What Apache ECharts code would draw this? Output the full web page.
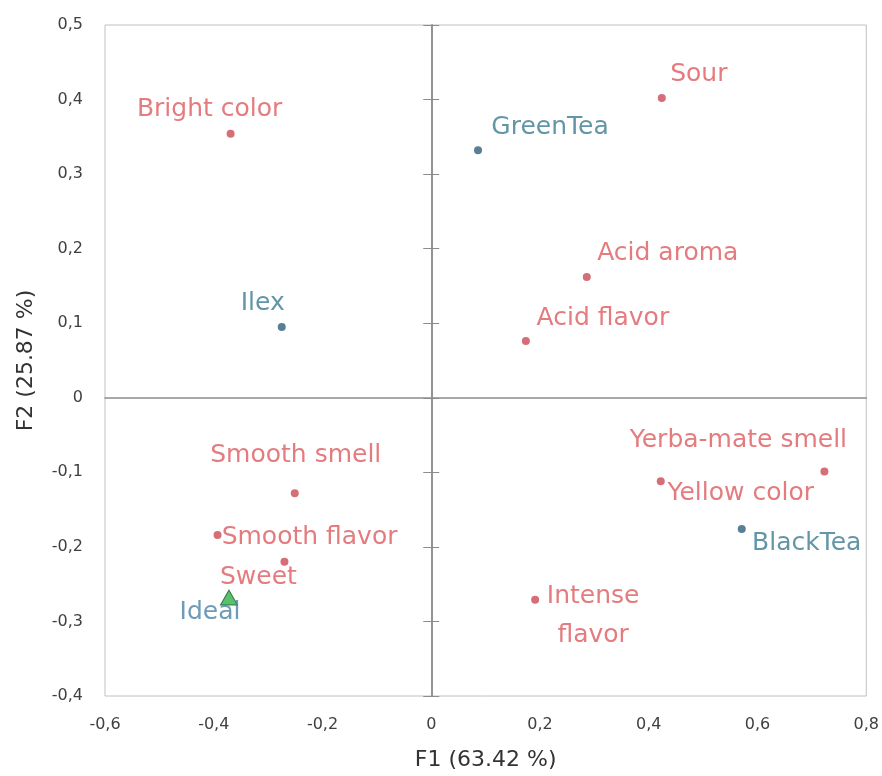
<!DOCTYPE html>
<html>
<head>
<meta charset="utf-8">
<script src="https://cdn.jsdelivr.net/npm/echarts@6/dist/echarts.min.js"></script>
<style>html,body{margin:0;padding:0;background:#fff;}#chart{width:882px;height:776px;}</style>
</head>
<body>
<div id="chart"></div>
<script>
// ---- data ----
var attrNames = ['Bright color','Sour','Acid aroma','Acid flavor','Smooth smell','Smooth flavor','Sweet','Yerba-mate smell','Yellow color','Intense\nflavor'];
var attrF1 = [-0.369, 0.424, 0.286, 0.174, -0.251, -0.393, -0.270, 0.723, 0.422, 0.191];
var attrF2 = [0.354, 0.402, 0.162, 0.076, -0.128, -0.184, -0.220, -0.099, -0.112, -0.271];
var prodNames = ['GreenTea','Ilex','BlackTea'];
var prodF1 = [0.086, -0.275, 0.571];
var prodF2 = [0.332, 0.095, -0.176];
var idealNames = ['Ideal'];
var idealF1 = [-0.372];
var idealF2 = [-0.268];
var xTicks = [-0.6,-0.4,-0.2,0,0.2,0.4,0.6,0.8];
var yTicks = [-0.4,-0.3,-0.2,-0.1,0,0.1,0.2,0.3,0.4,0.5];
var xTitle = 'F1 (63.42 %)';
var yTitle = 'F2 (25.87 %)';

// ---- label placement (text centre relative to the mark) ----
var labelOffsets = {
  'Bright color':[-21,-24], 'Sour':[37,-24], 'Acid aroma':[81,-23], 'Acid flavor':[77,-23],
  'Smooth smell':[1,-38], 'Smooth flavor':[92,3], 'Sweet':[-26,16], 'Yerba-mate smell':[-86,-31],
  'Yellow color':[80,12], 'Intense\nflavor':[58,16], 'GreenTea':[72,-23], 'Ilex':[-19,-23],
  'BlackTea':[65,15], 'Ideal':[-19,15]
};

function build(names, xs, ys) {
  return names.map(function(n, i){
    return {name:n, value:[xs[i], ys[i]], label:{offset: labelOffsets[n]}};
  });
}
function fmt(v){ return String(Math.round(v*10)/10).replace('.', ','); }

var labelFont = {fontFamily:'DejaVu Sans', fontSize:25, position:'inside', align:'center', verticalAlign:'middle', lineHeight:39, show:true, formatter:function(p){return p.name;}};

var chart = echarts.init(document.getElementById('chart'), null, {renderer:'canvas'});
chart.setOption({
  animation:false,
  backgroundColor:'#fff',
  grid:{left:105, top:25, right:14, bottom:77, show:true, borderColor:'#c0c0c0', borderWidth:1, containLabel:false},
  xAxis:[{
    type:'value', min:xTicks[0], max:xTicks[xTicks.length-1], interval:0.2,
    name:xTitle, nameLocation:'middle', nameGap:53,
    nameTextStyle:{fontFamily:'DejaVu Sans', fontSize:22, color:'#333'},
    axisLine:{show:false}, axisTick:{show:false}, splitLine:{show:false},
    axisLabel:{formatter:fmt, fontFamily:'DejaVu Sans', fontSize:16, color:'#404040', margin:21}
  },{
    type:'value', min:xTicks[0], max:xTicks[xTicks.length-1], interval:0.2,
    axisLine:{show:true, onZero:true, onZeroAxisIndex:0, lineStyle:{color:'#8c8c8c', width:1.5}},
    axisTick:{show:false}, axisLabel:{show:false}, splitLine:{show:false}
  }],
  yAxis:[{
    type:'value', min:yTicks[0], max:yTicks[yTicks.length-1], interval:0.1,
    name:yTitle, nameLocation:'middle', nameGap:68, nameRotate:90,
    nameTextStyle:{fontFamily:'DejaVu Sans', fontSize:22, color:'#333'},
    axisLine:{show:false}, axisTick:{show:false}, splitLine:{show:false},
    axisLabel:{formatter:fmt, fontFamily:'DejaVu Sans', fontSize:16, color:'#404040', margin:22}
  },{
    type:'value', min:yTicks[0], max:yTicks[yTicks.length-1], interval:0.1,
    axisLine:{show:true, onZero:true, onZeroAxisIndex:0, lineStyle:{color:'#8c8c8c', width:1.5}},
    axisTick:{show:true, inside:true, length:8, lineStyle:{color:'#8c8c8c'}},
    axisLabel:{show:false}, splitLine:{show:false}
  },{
    type:'value', min:yTicks[0], max:yTicks[yTicks.length-1], interval:0.1,
    axisLine:{show:true, onZero:true, onZeroAxisIndex:0, lineStyle:{color:'#8c8c8c', width:1.5}},
    axisTick:{show:true, inside:false, length:8, lineStyle:{color:'#8c8c8c'}},
    axisLabel:{show:false}, splitLine:{show:false}
  }],
  series:[{
    type:'scatter', name:'Attributes', symbol:'circle', symbolSize:8,
    itemStyle:{color:'#cc4a55'},
    label:Object.assign({color:'#dd5a5e'}, labelFont),
    data:build(attrNames, attrF1, attrF2)
  },{
    type:'scatter', name:'Products', symbol:'circle', symbolSize:8,
    itemStyle:{color:'#2e5f7c'},
    label:Object.assign({color:'#3b7c90'}, labelFont),
    data:build(prodNames, prodF1, prodF2)
  },{
    type:'scatter', name:'Ideal', symbol:'triangle', symbolSize:[17,15],
    itemStyle:{color:'#2fb24a', borderColor:'#1e5a2a', borderWidth:1},
    label:Object.assign({color:'#4a82a6'}, labelFont),
    data:build(idealNames, idealF1, idealF2)
  }]
});
</script>
</body>
</html>
